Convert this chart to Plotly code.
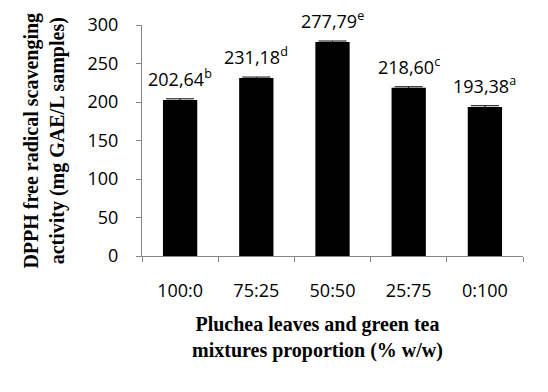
import plotly.graph_objects as go

categories = ["100:0", "75:25", "50:50", "25:75", "0:100"]
values = [202.64, 231.18, 277.79, 218.60, 193.38]
errors = [1.5, 1.2, 1.4, 1.2, 1.8]
value_labels = ["202,64", "231,18", "277,79", "218,60", "193,38"]
letters = ["b", "d", "e", "c", "a"]
y_ticks = [0, 50, 100, 150, 200, 250, 300]

tick_font = dict(family="Open Sans", size=18, color="#000000")
title_font = dict(family="Liberation Serif", size=20, color="#000000")

fig = go.Figure()
fig.add_trace(go.Bar(
    x=categories, y=values,
    marker=dict(color="#000000", line=dict(width=0)),
    error_y=dict(type="data", array=errors, visible=True, color="#000000",
                 thickness=1, width=14),
    width=0.45,
))

for c, v, lab, let in zip(categories, values, value_labels, letters):
    fig.add_annotation(x=c, y=v, text=f"{lab}<sup>{let}</sup>", showarrow=False,
                       yanchor="bottom", yshift=7, font=tick_font)

fig.add_annotation(xref="paper", yref="paper", x=-0.257, y=0.5,
                   text="<b>DPPH free radical scavenging<br>activity (mg GAE/L samples)</b>",
                   textangle=-90, showarrow=False, font=title_font,
                   xanchor="center", yanchor="middle")
fig.add_annotation(xref="paper", yref="paper", x=0.46, y=-0.24,
                   text="<b>Pluchea leaves and green tea<br>mixtures proportion (% w/w)</b>",
                   showarrow=False, font=title_font, xanchor="center", yanchor="top")

fig.update_layout(
    width=548, height=392,
    margin=dict(l=142, r=25, t=25, b=136),
    paper_bgcolor="#ffffff", plot_bgcolor="#ffffff",
    showlegend=False,
    font=tick_font,
)
fig.update_xaxes(type="category", showline=True, linecolor="#868686", linewidth=1,
                 ticks="outside", tickson="boundaries", ticklen=5, tickcolor="#868686",
                 tickfont=tick_font, showgrid=False, zeroline=False, ticklabelstandoff=18)
fig.update_yaxes(range=[0, 300], tickvals=y_ticks, showline=True, linecolor="#868686",
                 linewidth=1, ticks="outside", ticklen=5, tickcolor="#868686",
                 tickfont=tick_font, showgrid=False, zeroline=False, ticklabelstandoff=14)

fig.write_html("out.html")
